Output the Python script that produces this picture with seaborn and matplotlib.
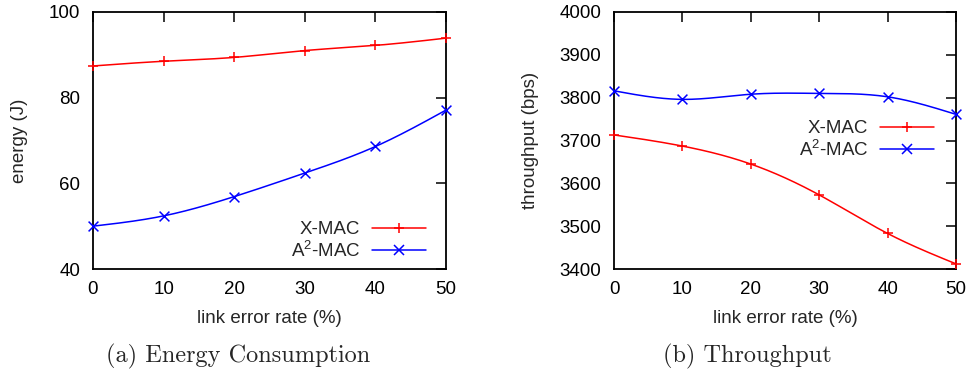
import numpy as np
import pandas as pd
import matplotlib
matplotlib.use("Agg")
import matplotlib.pyplot as plt
from matplotlib.lines import Line2D
import seaborn as sns

# link error rate (%)
error_rate = [0, 10, 20, 30, 40, 50]

# energy consumption (J)
energy_xmac = [87.4, 88.5, 89.4, 91.0, 92.2, 93.9]
energy_a2mac = [50.0, 52.4, 56.9, 62.4, 68.6, 77.1]

# throughput (bps)
thr_xmac = [3713, 3687, 3645, 3573, 3483, 3412]
thr_a2mac = [3816, 3796, 3808, 3810, 3802, 3761]

series_names = ["X-MAC", r"$\mathregular{A^2}$-MAC"]
series_colors = ["#ff0000", "#0000ff"]
series_markers = ["+", "x"]

energy_ticks = [40, 60, 80, 100]
thr_ticks = [3400, 3500, 3600, 3700, 3800, 3900, 4000]
x_ticks = [0, 10, 20, 30, 40, 50]

FS = 13.5


def natural_spline(x, y, n=300):
    """Natural cubic spline through (x, y), evaluated on a dense grid."""
    x = np.asarray(x, float)
    y = np.asarray(y, float)
    k = len(x)
    h = np.diff(x)
    A = np.zeros((k, k))
    b = np.zeros(k)
    A[0, 0] = A[-1, -1] = 1.0
    for i in range(1, k - 1):
        A[i, i - 1] = h[i - 1]
        A[i, i] = 2 * (h[i - 1] + h[i])
        A[i, i + 1] = h[i]
        b[i] = 6 * ((y[i + 1] - y[i]) / h[i] - (y[i] - y[i - 1]) / h[i - 1])
    m = np.linalg.solve(A, b)
    xs = np.linspace(x[0], x[-1], n)
    idx = np.clip(np.searchsorted(x, xs) - 1, 0, k - 2)
    x0, x1 = x[idx], x[idx + 1]
    hh = x1 - x0
    t0 = x1 - xs
    t1 = xs - x0
    ys = (m[idx] * t0 ** 3 / (6 * hh) + m[idx + 1] * t1 ** 3 / (6 * hh)
          + (y[idx] / hh - m[idx] * hh / 6) * t0
          + (y[idx + 1] / hh - m[idx + 1] * hh / 6) * t1)
    return xs, ys


sns.set_theme(style="white")
plt.rcParams["font.family"] = ["Liberation Sans", "DejaVu Sans"]
plt.rcParams["mathtext.fontset"] = "custom"
plt.rcParams["mathtext.rm"] = "Liberation Sans"
plt.rcParams["mathtext.it"] = "Liberation Sans:italic"
plt.rcParams["mathtext.bf"] = "Liberation Sans:bold"

fig = plt.figure(figsize=(9.71, 3.70), dpi=100)
ax_e = fig.add_axes([93 / 971, 1 - 269 / 370, 353 / 971, 257 / 370])
ax_t = fig.add_axes([614 / 971, 1 - 269 / 370, 342 / 971, 257 / 370])


def draw_panel(ax, series, ylim, yticks, ylabel, legend_anchor):
    for vals, name, color, marker in zip(series, series_names,
                                         series_colors, series_markers):
        xs, ys = natural_spline(error_rate, vals)
        smooth = pd.DataFrame({"x": xs, "y": ys})
        sns.lineplot(data=smooth, x="x", y="y", ax=ax, color=color,
                     linewidth=1.1, estimator=None, sort=False, legend=False)
        pts = pd.DataFrame({"x": error_rate, "y": vals})
        sns.scatterplot(data=pts, x="x", y="y", ax=ax, color=color,
                        marker=marker, s=50, linewidth=1.1, legend=False,
                        clip_on=False, zorder=4)
    ax.set_xlim(0, 50)
    ax.set_ylim(*ylim)
    ax.set_xticks(x_ticks)
    ax.set_yticks(yticks)
    ax.tick_params(direction="in", length=7, width=1.1, top=True, right=True,
                   labelsize=FS, color="black", labelcolor="black", pad=9)
    ax.tick_params(axis="y", pad=9)
    for sp in ax.spines.values():
        sp.set_visible(True)
        sp.set_color("black")
        sp.set_linewidth(1.3)
    ax.set_xlabel("link error rate (%)", fontsize=FS, labelpad=8)
    ax.set_ylabel(ylabel, fontsize=FS, labelpad=15)

    handles = [Line2D([0], [0], color=c, marker=m, markersize=7,
                      markeredgewidth=1.1, linewidth=1.1)
               for c, m in zip(series_colors, series_markers)]
    ax.legend(handles, series_names, loc="upper right",
              bbox_to_anchor=legend_anchor, bbox_transform=fig.transFigure,
              frameon=False, markerfirst=False, fontsize=FS,
              handlelength=2.9, handletextpad=0.6, labelspacing=0.15,
              borderpad=0.0, borderaxespad=0.0)


draw_panel(ax_e, [energy_xmac, energy_a2mac], (40, 100), energy_ticks,
           "energy (J)", (426 / 971, 1 - 221 / 370))
draw_panel(ax_t, [thr_xmac, thr_a2mac], (3400, 4000), thr_ticks,
           "throughput (bps)", (934 / 971, 1 - 120 / 370))

fig.text(238 / 971, 1 - 356 / 370, "(a) Energy Consumption", family="cmr10",
         fontsize=17.5, ha="center", va="center")
fig.text(747 / 971, 1 - 356 / 370, "(b) Throughput", family="cmr10",
         fontsize=17.5, ha="center", va="center")

fig.savefig("out.png", dpi=100)
